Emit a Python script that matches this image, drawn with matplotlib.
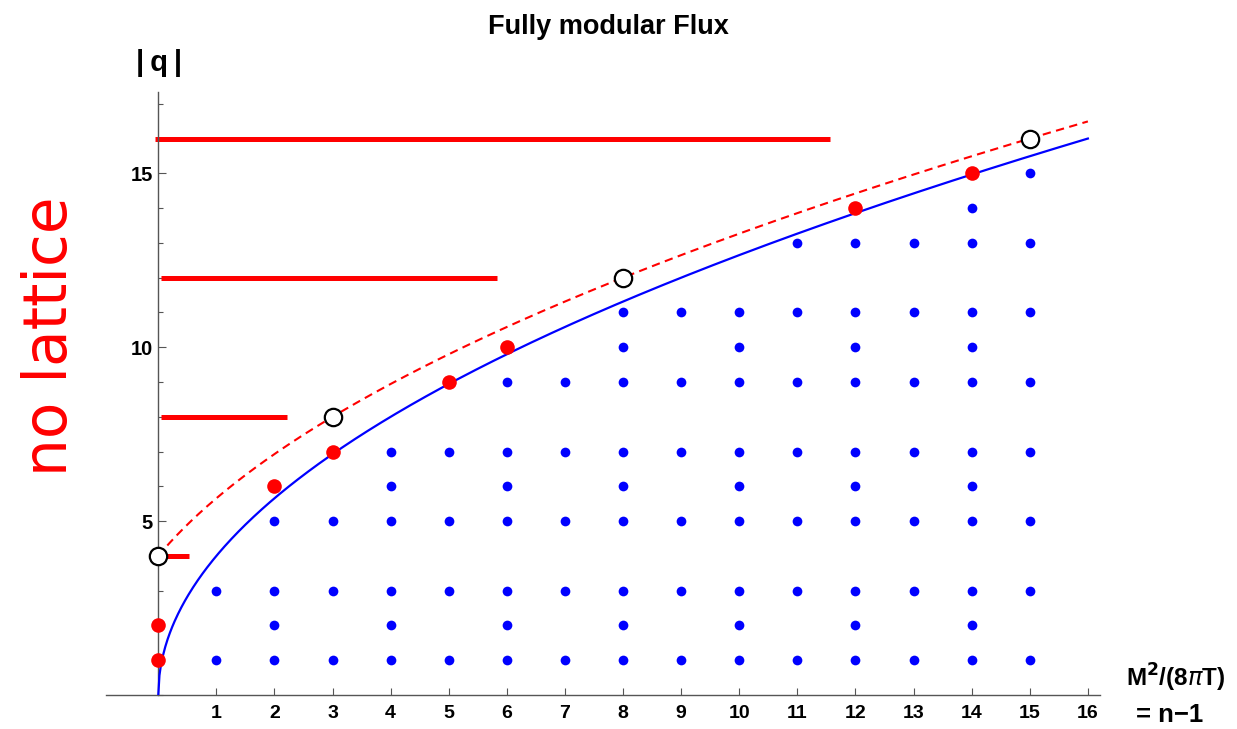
import numpy as np
import matplotlib
matplotlib.use("Agg")
import matplotlib.pyplot as plt
from matplotlib.ticker import MultipleLocator

plt.rcParams['font.family'] = ['Liberation Sans', 'DejaVu Sans']

# blue lattice points: n -> list of |q|
blue_n = list(range(1, 16))
blue_q = [
    [1, 3],
    [1, 2, 3, 5],
    [1, 3, 5, 7],
    [1, 2, 3, 5, 6, 7],
    [1, 3, 5, 7],
    [1, 2, 3, 5, 6, 7, 9],
    [1, 3, 5, 7, 9],
    [1, 2, 3, 5, 6, 7, 9, 10, 11],
    [1, 3, 5, 7, 9, 11],
    [1, 2, 3, 5, 6, 7, 9, 10, 11],
    [1, 3, 5, 7, 9, 11, 13],
    [1, 2, 3, 5, 6, 7, 9, 10, 11, 13],
    [1, 3, 5, 7, 9, 11, 13],
    [1, 2, 3, 5, 6, 7, 9, 10, 11, 13, 14],
    [1, 3, 5, 7, 9, 11, 13, 15],
]

# red points
red_n = [0, 0, 2, 3, 5, 6, 12, 14]
red_q = [1, 2, 6, 7, 9, 10, 14, 15]

# open circles
open_n = [0, 3, 8, 15]
open_q = [4, 8, 12, 16]

# red horizontal bars ("no lattice")
bar_q = [16, 12, 8, 4]
bar_start = [-0.05, 0.05, 0.05, 0.12]
bar_end = [11.57, 5.83, 2.22, 0.52]

# bounding curves: |q| = 4 sqrt(n) and |q| = 4 sqrt(n + 1)
CURVE_COEF = 4.0
N_MAX = 16

fig = plt.figure(figsize=(12.37, 7.29), dpi=100)
W, H = 1237, 729
x0, x1 = 106.0, 1099.5
y0, y1 = 91.6, 695.0
ax = fig.add_axes([x0 / W, (H - y1) / H, (x1 - x0) / W, (y1 - y0) / H])
ax.set_xlim(-0.9, 16.2)
ax.set_ylim(0, 17.35)

# horizontal bars
for q, xs, xe in zip(bar_q, bar_start, bar_end):
    ax.plot([xs, xe], [q, q], color='#ff0000', lw=3.6, solid_capstyle='butt', zorder=2)

n = np.linspace(0, N_MAX, 800)
ax.plot(n, CURVE_COEF * np.sqrt(n), color='#0000ff', lw=1.6, zorder=3)
ax.plot(n, CURVE_COEF * np.sqrt(n + 1), color='#ff0000', lw=1.5,
        linestyle=(0, (4, 2.6)), zorder=3)

bx = [x for x, qs in zip(blue_n, blue_q) for _ in qs]
by = [q for qs in blue_q for q in qs]
ax.plot(bx, by, 'o', color='#0000ff', ms=7, mec='none', zorder=4)
ax.plot(red_n, red_q, 'o', color='#ff0000', ms=10.5, mec='none', zorder=5)
ax.plot(open_n, open_q, 'o', mfc='white', mec='black', mew=1.6, ms=12.5, zorder=6)

# Mathematica-style axes
for s in ['top', 'right']:
    ax.spines[s].set_visible(False)
ax.spines['left'].set_position(('data', 0))
ax.spines['bottom'].set_position(('data', 0))
for s in ['left', 'bottom']:
    ax.spines[s].set_color('#555555')
    ax.spines[s].set_linewidth(1.0)

ax.set_xticks(range(1, 17))
ax.set_xticklabels([str(i) for i in range(1, 17)], fontweight='bold', fontsize=14)
ax.tick_params(axis='x', direction='in', length=5, width=0.8, color='#555555', pad=7)

ax.set_yticks([5, 10, 15])
ax.set_yticklabels(['5', '10', '15'], fontweight='bold', fontsize=14.5)
ax.yaxis.set_minor_locator(MultipleLocator(1))
ax.tick_params(axis='y', which='major', direction='in', length=6, width=0.8,
               color='#555555', pad=4)
ax.tick_params(axis='y', which='minor', direction='in', length=3.5, width=0.8,
               color='#555555')

fig.text(608 / W, 1 - 27 / H, 'Fully modular Flux', ha='center', va='center',
         fontsize=19.5, fontweight='bold')
fig.text(159 / W, 1 - 63 / H, '|\u2009q\u2009|', ha='center', va='center',
         fontsize=21, fontweight='bold')
fig.text(1176 / W, 1 - 678 / H, r'M$^\mathbf{2}$/(8$\pi$T)', ha='center', va='center',
         fontsize=17.5, fontweight='bold')
fig.text(1170 / W, 1 - 715 / H, '= n\u22121', ha='center', va='center',
         fontsize=18.5, fontweight='bold')
fig.text(50 / W, 1 - 336 / H, 'no lattice', ha='center', va='center', rotation=90,
         fontsize=43, color='#ff0000', family=['DejaVu Sans'])

fig.savefig('out.png', dpi=100)
